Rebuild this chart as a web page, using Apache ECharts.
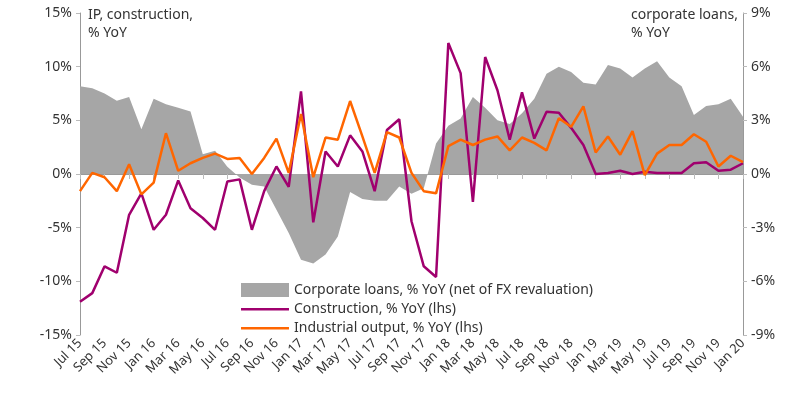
<!DOCTYPE html>
<html><head><meta charset="utf-8">
<script src="https://cdn.jsdelivr.net/npm/echarts@6/dist/echarts.min.js"></script>
<style>html,body{margin:0;padding:0;background:#fff}#c{width:800px;height:403px}</style>
</head><body><div id="c"></div>
<script>
const months=['Jan','Feb','Mar','Apr','May','Jun','Jul','Aug','Sep','Oct','Nov','Dec'];
const categories=[];
for(let y=15,m=6;categories.length<55;){categories.push(months[m]+' '+y);m++;if(m===12){m=0;y++;}}
const construction=[-11.9,-11.1,-8.6,-9.2,-3.8,-1.8,-5.2,-3.8,-0.6,-3.2,-4.1,-5.2,-0.7,-0.5,-5.2,-1.6,0.7,-1.2,7.7,-4.5,2.1,0.7,3.6,2.1,-1.6,4.1,5.1,-4.4,-8.6,-9.6,12.2,9.4,-2.6,10.9,7.8,3.2,7.6,3.3,5.8,5.7,4.3,2.7,0,0.1,0.3,0,0.2,0.1,0.1,0.1,1.0,1.1,0.3,0.4,1.0];
const industrial=[-1.6,0.1,-0.3,-1.6,0.9,-1.9,-0.8,3.8,0.3,1.0,1.5,1.9,1.4,1.5,0,1.5,3.3,0.1,5.6,-0.3,3.4,3.2,6.8,3.5,0.1,3.9,3.4,0.1,-1.6,-1.8,2.6,3.2,2.7,3.2,3.5,2.2,3.4,2.9,2.2,5.2,4.4,6.3,2.0,3.5,1.8,4.0,-0.1,1.9,2.7,2.7,3.7,3.0,0.7,1.7,1.1];
const loans=[4.9,4.8,4.5,4.1,4.3,2.5,4.2,3.9,3.7,3.5,1.1,1.3,0.4,-0.2,-0.6,-0.7,-2.0,-3.3,-4.8,-5.0,-4.5,-3.5,-1.0,-1.4,-1.5,-1.5,-0.7,-1.1,-0.8,1.7,2.7,3.1,4.3,3.7,3.0,2.8,3.4,4.2,5.6,6.0,5.7,5.1,5.0,6.1,5.9,5.4,5.9,6.3,5.4,4.9,3.3,3.8,3.9,4.2,3.2];
const txt='#333';
const font='Noto Sans';
const lineIcon='path://M0,0h0.01v0.01h-0.01Z M0,6h48v2.4h-48Z M0,14h0.01v0.01h-0.01Z';
const chart=echarts.init(document.getElementById('c'));
chart.setOption({
 animation:false,
 textStyle:{fontFamily:font},
 grid:{left:80,right:57,top:13,bottom:68},
 legend:{left:236,top:278,orient:'vertical',itemGap:5,itemWidth:48,itemHeight:14,
  textStyle:{fontSize:14,color:txt,fontFamily:font},
  data:[{name:'Corporate loans, % YoY (net of FX revaluation)',icon:'rect'},
        {name:'Construction, % YoY (lhs)',icon:lineIcon,itemStyle:{color:'#a0006e'}},
        {name:'Industrial output, % YoY (lhs)',icon:lineIcon,itemStyle:{color:'#ff6600'}}]},
 xAxis:[{type:'category',data:categories,boundaryGap:false,
   axisLine:{show:false},axisTick:{show:false},
   axisLabel:{interval:1,rotate:45,color:txt,fontSize:13,margin:6}},
  {type:'category',data:categories,boundaryGap:false,position:'bottom',
   axisLine:{onZero:true,onZeroAxisIndex:0,lineStyle:{color:'#999'}},
   axisTick:{show:true,interval:1,length:5,inside:false,lineStyle:{color:'#bbb'}},
   axisLabel:{show:false}}],
 yAxis:[{type:'value',min:-15,max:15,interval:5,
   axisLine:{show:true,lineStyle:{color:'#999'}},axisTick:{show:true,length:4,lineStyle:{color:'#bbb'}},
   splitLine:{show:false},axisLabel:{color:txt,fontSize:14,formatter:'{value}%'}},
  {type:'value',min:-9,max:9,interval:3,
   axisLine:{show:true,lineStyle:{color:'#999'}},axisTick:{show:true,length:4,lineStyle:{color:'#bbb'}},
   splitLine:{show:false},axisLabel:{color:txt,fontSize:14,formatter:'{value}%'}}],
 graphic:[
  {type:'text',left:88,top:6,style:{text:'IP, construction,\n% YoY',fill:txt,fontSize:14,fontFamily:font,lineHeight:18}},
  {type:'text',right:62,top:6,style:{text:'corporate loans,\n% YoY',fill:txt,fontSize:14,fontFamily:font,lineHeight:18,align:'right'}}],
 series:[
  {name:'Corporate loans, % YoY (net of FX revaluation)',type:'line',yAxisIndex:1,data:loans,
   symbol:'none',lineStyle:{width:0},itemStyle:{color:'#a6a6a6'},areaStyle:{color:'#a6a6a6',opacity:1}},
  {name:'Construction, % YoY (lhs)',type:'line',yAxisIndex:0,data:construction,symbol:'none',
   lineStyle:{width:2.5,color:'#a0006e'},itemStyle:{color:'#a0006e'}},
  {name:'Industrial output, % YoY (lhs)',type:'line',yAxisIndex:0,data:industrial,symbol:'none',
   lineStyle:{width:2.5,color:'#ff6600'},itemStyle:{color:'#ff6600'}}]
});
</script></body></html>
